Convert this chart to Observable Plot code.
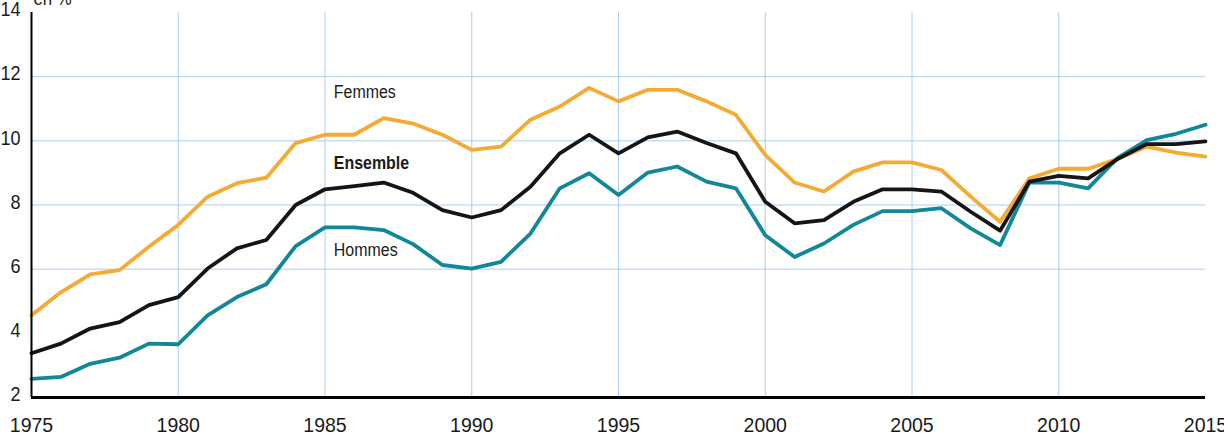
<!DOCTYPE html>
<html><head><meta charset="utf-8">
<script src="https://cdn.jsdelivr.net/npm/d3@7"></script>
<script src="https://cdn.jsdelivr.net/npm/@observablehq/plot@0.6"></script>
<style>html,body{margin:0;padding:0;background:#fff;overflow:hidden}</style>
</head><body><div id="chart"></div>
<script>
const years = [1975,1976,1977,1978,1979,1980,1981,1982,1983,1984,
  1985,1986,1987,1988,1989,1990,1991,1992,1993,1994,
  1995,1996,1997,1998,1999,2000,2001,2002,2003,2004,
  2005,2006,2007,2008,2009,2010,2011,2012,2013,2014,2015];
const femmes = [4.56,5.28,5.84,5.97,6.70,7.38,8.26,8.68,8.85,9.93,
  10.19,10.19,10.71,10.54,10.19,9.72,9.82,10.66,11.07,11.65,
  11.23,11.59,11.59,11.23,10.81,9.56,8.70,8.42,9.04,9.33,
  9.33,9.09,8.26,7.48,8.83,9.13,9.13,9.43,9.82,9.63,9.51];
const ensemble = [3.38,3.68,4.15,4.35,4.88,5.13,6.02,6.65,6.91,8.00,
  8.49,8.59,8.70,8.38,7.84,7.61,7.84,8.57,9.61,10.19,
  9.61,10.11,10.29,9.93,9.61,8.10,7.43,7.53,8.10,8.49,
  8.49,8.42,7.79,7.20,8.73,8.91,8.83,9.43,9.90,9.90,9.98];
const hommes = [2.58,2.64,3.05,3.24,3.68,3.66,4.56,5.13,5.53,6.72,
  7.30,7.30,7.22,6.78,6.13,6.02,6.23,7.11,8.52,8.99,
  8.31,9.01,9.20,8.73,8.52,7.06,6.38,6.80,7.38,7.81,
  7.81,7.90,7.27,6.75,8.70,8.70,8.52,9.46,10.02,10.22,10.50];
const seriesNames = ["Femmes", "Hommes", "Ensemble"];
const seriesColors = ["#f4aa33", "#10889a", "#151515"];
const xTicks = [1975,1980,1985,1990,1995,2000,2005,2010,2015];
const xGrid = [1980,1985,1990,1995,2000,2005,2010];
const yTicks = [2,4,6,8,10,12,14];
const yGrid = [6,8,10,12];
const unitLabel = "en %";
const annotations = [
  {serie:"Femmes", year:1985.3, value:11.53, bold:false},
  {serie:"Ensemble", year:1985.3, value:9.31, bold:true},
  {serie:"Hommes", year:1985.3, value:6.6, bold:false}
];

const seriesValues = {Femmes: femmes, Hommes: hommes, Ensemble: ensemble};
const data = seriesNames.flatMap(s => years.map((y, i) => ({serie: s, year: y, value: seriesValues[s][i]})));

const gridColor = "#aacff0";
const font = "'Liberation Sans', Arial, sans-serif";
const chart = Plot.plot({
  width: 1224, height: 436,
  marginLeft: 31, marginRight: 19, marginTop: 12, marginBottom: 39,
  x: {domain: [1975, 2015]},
  y: {domain: [2, 14]},
  color: {domain: seriesNames, range: seriesColors},
  style: {fontFamily: font, background: "#fff", color: "#1a1a1a"},
  marks: [
    Plot.gridX(xGrid, {stroke: gridColor, strokeOpacity: 1, strokeWidth: 1}),
    Plot.gridY(yGrid, {stroke: gridColor, strokeOpacity: 1, strokeWidth: 1}),
    Plot.axisX(xTicks, {tickSize: 0, tickPadding: 20, fontSize: 21, tickFormat: d => String(d), label: null}),
    Plot.axisY(yTicks, {tickSize: 0, tickPadding: 11, fontSize: 21, dy: -3, label: null}),
    Plot.line(data, {x: "year", y: "value", z: "serie", stroke: "serie", strokeWidth: 3.8, strokeLinejoin: "round"}),
    Plot.ruleY([2], {stroke: "#000", strokeWidth: 3}),
    Plot.ruleX([1975], {stroke: "#000", strokeWidth: 2}),
    Plot.text(annotations.filter(d => !d.bold), {x: "year", y: "value", text: "serie", textAnchor: "start",
      fontSize: 19, fill: "#1a1a1a", className: "condensed"}),
    Plot.text(annotations.filter(d => d.bold), {x: "year", y: "value", text: "serie", textAnchor: "start",
      fontSize: 19, fontWeight: "bold", fill: "#1a1a1a", className: "condensed"}),
    Plot.text([unitLabel], {frameAnchor: "top-left", dx: 2, dy: -8, lineAnchor: "bottom", textAnchor: "start",
      fontSize: 20, fill: "#1a1a1a", className: "condensed"})
  ]
});
// condensed look of the original typeface
function squeeze(nodes, k) {
  nodes.forEach(t => {
    const tr = t.getAttribute("transform") || "";
    t.setAttribute("transform", (tr + ` scale(${k},1)`).trim());
  });
}
squeeze(chart.querySelectorAll(".condensed text"), 0.84);
squeeze(chart.querySelectorAll('g[aria-label="y-axis tick label"] text'), 0.86);
squeeze(chart.querySelectorAll('g[aria-label="x-axis tick label"] text'), 0.93);
document.getElementById("chart").append(chart);
</script>
</body></html>
